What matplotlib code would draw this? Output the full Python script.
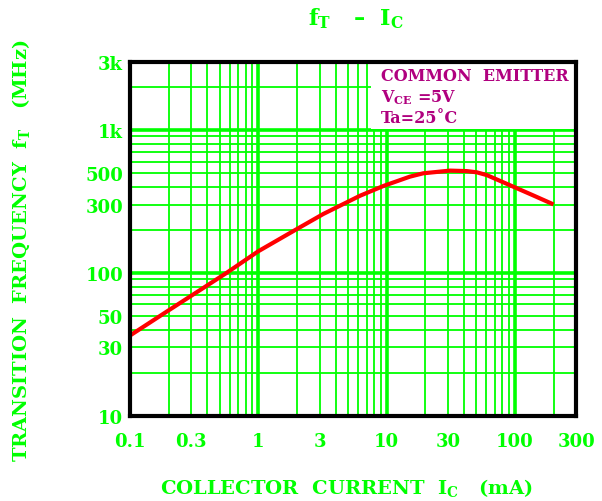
import matplotlib
matplotlib.use("Agg")
import matplotlib.pyplot as plt
from matplotlib.patches import Rectangle

plt.rcParams['font.family'] = ['DejaVu Serif']
plt.rcParams['font.weight'] = 'bold'
plt.rcParams['mathtext.fontset'] = 'custom'
plt.rcParams['mathtext.rm'] = 'DejaVu Serif:bold'
plt.rcParams['mathtext.it'] = 'DejaVu Serif:bold'
plt.rcParams['mathtext.bf'] = 'DejaVu Serif:bold'

# data
ic_ma = [0.1, 0.2, 0.327, 0.55, 1.0, 1.99, 3.21, 6.2, 9.43, 15.2, 19.3, 31.2,
         42.1, 50.4, 60.3, 91.6, 139, 200]
ft_mhz = [36.4, 54.6, 72.6, 98.2, 141.5, 202, 258, 346, 405, 471, 497, 519,
          515, 505, 483, 410, 348, 301]

x_ticks = [0.1, 0.3, 1, 3, 10, 30, 100, 300]
x_ticklabels = ['0.1', '0.3', '1', '3', '10', '30', '100', '300']
y_ticks = [10, 30, 50, 100, 300, 500, 1000, 3000]
y_ticklabels = ['10', '30', '50', '100', '300', '500', '1k', '3k']
x_grid = [0.2, 0.3, 0.4, 0.5, 0.6, 0.7, 0.8, 0.9, 1, 2, 3, 4, 5, 6, 7, 8, 9, 10,
          20, 30, 40, 50, 60, 70, 80, 90, 100, 200]
y_grid = [20, 30, 40, 50, 60, 70, 80, 90, 100, 200, 300, 400, 500, 600, 700,
          800, 900, 1000, 2000]
x_major = [1, 10, 100]
y_major = [100, 1000]

GREEN = '#00ff00'
MAG = '#b0007f'

fig = plt.figure(figsize=(6.02, 5.02), dpi=100)
ax = fig.add_axes([0.216, 0.170, 0.741, 0.705])
ax.set_xscale('log')
ax.set_yscale('log')
ax.set_xlim(0.1, 300)
ax.set_ylim(10, 3000)

for xv in x_grid:
    ax.axvline(xv, color=GREEN, lw=2.6 if xv in x_major else 1.3, zorder=1)
for yv in y_grid:
    ax.axhline(yv, color=GREEN, lw=2.6 if yv in y_major else 1.3, zorder=1)

# annotation box
ax.add_patch(Rectangle((0.541, 0.811), 0.459, 0.189, transform=ax.transAxes,
                       facecolor='white', edgecolor='none', zorder=2))
ax.text(0.563, 0.962, 'COMMON  EMITTER', transform=ax.transAxes, color=MAG,
        fontsize=11.5, va='center', ha='left', zorder=3)
ax.text(0.563, 0.902, r'V$_{\mathrm{CE}}$ =5V', transform=ax.transAxes, color=MAG,
        fontsize=11.5, va='center', ha='left', zorder=3)
ax.text(0.563, 0.842, 'Ta=25\u02daC', transform=ax.transAxes, color=MAG,
        fontsize=11.5, va='center', ha='left', zorder=3)

ax.plot(ic_ma, ft_mhz, color='#ff0000', lw=3, zorder=4,
        solid_capstyle='butt', solid_joinstyle='round')

for s in ax.spines.values():
    s.set_linewidth(3)
    s.set_color('black')
    s.set_zorder(5)

ax.set_xticks(x_ticks)
ax.set_xticklabels(x_ticklabels)
ax.set_yticks(y_ticks)
ax.set_yticklabels(y_ticklabels)
ax.minorticks_off()
ax.tick_params(length=0, labelcolor=GREEN, labelsize=13, pad=5)
ax.tick_params(axis='x', pad=12)

fig.text(0.592, 0.963, r'f$_{\mathrm{T}}$   –  I$_{\mathrm{C}}$', color=GREEN,
         fontsize=16, ha='center', va='center')
fig.text(0.575, 0.028, r'COLLECTOR  CURRENT  I$_{\mathrm{C}}$   (mA)', color=GREEN,
         fontsize=14, ha='center', va='center')
fig.text(0.035, 0.5, r'TRANSITION  FREQUENCY  f$_{\mathrm{T}}$   (MHz)', color=GREEN,
         fontsize=14, ha='center', va='center', rotation=90)

fig.savefig('out.png', dpi=100)
